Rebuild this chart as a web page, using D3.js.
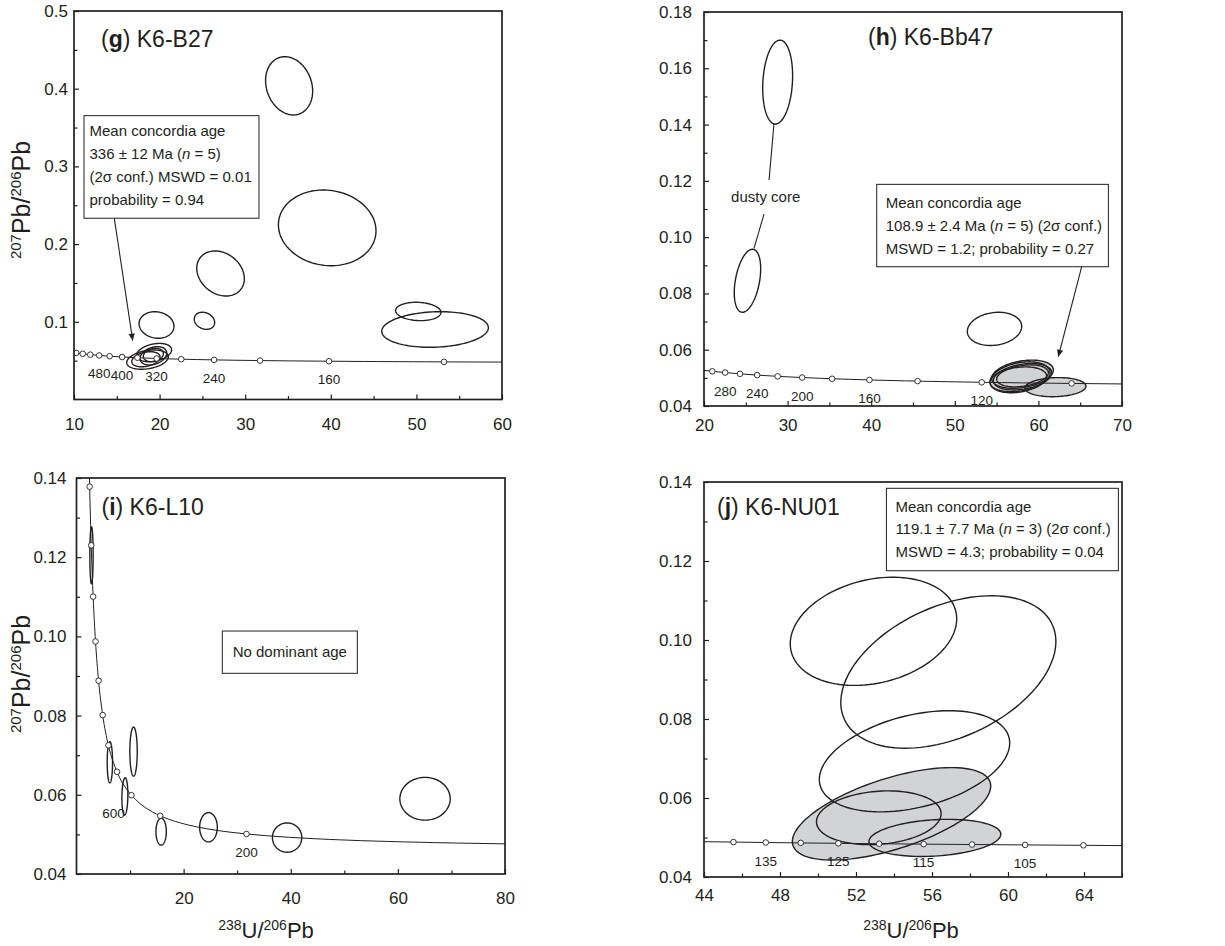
<!DOCTYPE html>
<html>
<head>
<meta charset="utf-8">
<script src="https://cdn.jsdelivr.net/npm/d3@7"></script>
<style>
body { margin: 0; background: #fff; }
svg { display: block; }
text { font-family: "Liberation Sans", Arial, Helvetica, sans-serif; fill: #231f20; }
</style>
</head>
<body>
<svg id="chart" width="1225" height="946"></svg>
<script>
// Concordia reference points: age (Ma), 238U/206Pb, 207Pb/206Pb
var concAge = [80, 90, 96, 100, 105, 110, 115, 120, 125, 130, 135, 140, 145, 160, 180, 200, 220, 240, 260, 280, 300,
    320, 360, 400, 440, 480, 520, 560, 600, 640, 800, 1000, 1200, 1400, 1600, 1800, 2000, 2200, 2300];
var concU = [80.08, 71.13, 66.65, 63.97, 60.90, 58.11, 55.56, 53.22, 51.07, 49.09, 47.25, 45.55, 43.96, 39.79, 35.32, 31.74, 28.81, 26.36, 24.30, 22.53, 20.99,
    19.65, 17.41, 15.62, 14.16, 12.94, 11.90, 11.02, 10.25, 9.58, 7.568, 5.959, 4.888, 4.123, 3.550, 3.105, 2.749, 2.459, 2.333];
var concPb = [0.04761, 0.04781, 0.04793, 0.04802, 0.04812, 0.04822, 0.04832, 0.04842, 0.04853, 0.04863, 0.04873, 0.04884, 0.04894, 0.04926, 0.04968, 0.05011, 0.05054, 0.05098, 0.05143, 0.05188, 0.05233,
    0.05280, 0.05374, 0.05470, 0.05569, 0.05670, 0.05774, 0.05881, 0.05990, 0.06102, 0.06580, 0.07250, 0.08012, 0.08881, 0.09872, 0.11004, 0.12299, 0.13782, 0.14603];

// age markers and labelled ages for each sample
var gMarkAges = [120, 160, 200, 240, 280, 320, 360, 400, 440, 480, 520, 560, 600];
var gLabelAges = [480, 400, 320, 240, 160];
var hMarkAges = [100, 120, 140, 160, 180, 200, 220, 240, 260, 280, 300];
var hLabelAges = [280, 240, 200, 160, 120];
var iMarkAges = [200, 400, 600, 800, 1000, 1200, 1400, 1600, 1800, 2000, 2200];
var iLabelAges = [600, 200];
var jMarkAges = [100, 105, 110, 115, 120, 125, 130, 135, 140];
var jLabelAges = [135, 125, 115, 105];

// error ellipses: [238U/206Pb, 207Pb/206Pb, half-width x, half-width y, correlation, shaded]
var gEllipses = [
    [35.13, 0.4037, 2.75, 0.0375, -0.18, 0],
    [39.58, 0.2209, 5.70, 0.0487, -0.08, 0],
    [27.12, 0.1622, 2.78, 0.0290, -0.23, 0],
    [25.24, 0.1013, 1.19, 0.0110, -0.20, 0],
    [19.64, 0.0959, 2.04, 0.0171, -0.10, 0],
    [50.22, 0.1133, 2.65, 0.0118, -0.10, 0],
    [52.18, 0.0901, 6.23, 0.0229, 0.10, 0],
    [18.59, 0.0513, 2.43, 0.0124, 0.30, 0],
    [19.36, 0.0604, 2.04, 0.0118, 0.30, 0],
    [19.27, 0.0562, 1.56, 0.0118, 0.30, 0],
    [19.27, 0.0573, 1.17, 0.0086, 0.20, 0],
    [18.40, 0.0518, 1.65, 0.0097, 0.30, 0]
];
var hEllipses = [
    [28.81, 0.1551, 1.79, 0.0149, 0.15, 0],
    [25.20, 0.0845, 1.58, 0.0112, 0.38, 0],
    [54.75, 0.0674, 3.25, 0.0059, 0.15, 0],
    [57.80, 0.0502, 3.59, 0.0055, 0.30, 1],
    [58.10, 0.0513, 3.69, 0.0050, 0.30, 1],
    [58.10, 0.0504, 3.49, 0.0047, 0.30, 1],
    [58.10, 0.0507, 3.09, 0.0039, 0.30, 1],
    [57.60, 0.0495, 3.39, 0.0044, 0.25, 1],
    [62.04, 0.0467, 3.65, 0.0034, 0.10, 1]
];
var iEllipses = [
    [2.80, 0.1205, 0.31, 0.0072, 0.00, 0],
    [6.23, 0.0682, 0.50, 0.0052, 0.00, 0],
    [10.65, 0.0709, 0.69, 0.0062, 0.00, 0],
    [9.03, 0.0596, 0.56, 0.0047, 0.10, 0],
    [15.80, 0.0507, 0.97, 0.0034, 0.00, 0],
    [24.64, 0.0518, 1.65, 0.0037, 0.00, 0],
    [39.32, 0.0492, 2.74, 0.0037, 0.00, 0],
    [65.07, 0.0590, 4.70, 0.0054, 0.00, 0]
];
var jEllipses = [
    [52.92, 0.1022, 4.38, 0.0137, 0.23, 0],
    [56.86, 0.0919, 5.66, 0.0193, 0.40, 0],
    [55.08, 0.0693, 5.01, 0.0128, 0.36, 0],
    [53.87, 0.0560, 5.22, 0.0117, 0.60, 1],
    [53.20, 0.0550, 3.28, 0.0068, 0.15, 0],
    [56.15, 0.0499, 3.47, 0.0047, 0.20, 1]
];

// tick values
var gXTicks = [10, 20, 30, 40, 50, 60];
var gXMinor = [15, 25, 35, 45, 55];
var gYTicks = [0.1, 0.2, 0.3, 0.4, 0.5];
var gYMinor = [0.05, 0.15, 0.25, 0.35, 0.45];
var hXTicks = [20, 30, 40, 50, 60, 70];
var hXMinor = [25, 35, 45, 55, 65];
var hYTicks = [0.04, 0.06, 0.08, 0.10, 0.12, 0.14, 0.16, 0.18];
var hYMinor = [0.05, 0.07, 0.09, 0.11, 0.13, 0.15, 0.17];
var iXTicks = [20, 40, 60, 80];
var iXMinor = [10, 30, 50, 70];
var iYTicks = [0.04, 0.06, 0.08, 0.10, 0.12, 0.14];
var iYMinor = [0.05, 0.07, 0.09, 0.11, 0.13];
var jXTicks = [44, 48, 52, 56, 60, 64];
var jXMinor = [46, 50, 54, 58, 62, 66];
var jYTicks = [0.04, 0.06, 0.08, 0.10, 0.12, 0.14];
var jYMinor = [0.05, 0.07, 0.09, 0.11, 0.13];

var svg = d3.select('#chart');
var defs = svg.append('defs');
defs.append('marker')
    .attr('id', 'arrow')
    .attr('viewBox', '0 0 10 10')
    .attr('refX', 10).attr('refY', 5)
    .attr('markerWidth', 11).attr('markerHeight', 7)
    .attr('markerUnits', 'userSpaceOnUse')
    .attr('orient', 'auto')
    .append('path').attr('d', 'M0,0.5 L10,5 L0,9.5 Z').attr('fill', '#231f20');

var panels = [
    {letter: 'g', name: ') K6-B27', left: 74, right: 502, top: 11, bottom: 399.5,
     xDomain: [10, 60], yDomain: [0, 0.5], xTicks: gXTicks, xMinor: gXMinor, yTicks: gYTicks, yMinor: gYMinor,
     yFmt: '.1f', xPad: 18.5, yPad: 6, marks: gMarkAges, labels: gLabelAges, labelDx: {}, ellipses: gEllipses,
     titleDx: 27, titleDy: 36,
     box: {x0: 11.17, x1: 31.61, y0: 0.3653, y1: 0.2333, padX: 5.5, first: 20.5, gap: 22.8, lines: [
         [['Mean concordia age']],
         [['336 \u00b1 12 Ma ('], ['n', 'italic'], [' = 5)']],
         [['(2\u03c3 conf.) MSWD = 0.01']],
         [['probability = 0.94']]]},
     arrow: [[14.71, 0.2332], [16.86, 0.0757]]},
    {letter: 'h', name: ') K6-Bb47', left: 704, right: 1122, top: 12, bottom: 406,
     xDomain: [20, 70], yDomain: [0.04, 0.18], xTicks: hXTicks, xMinor: hXMinor, yTicks: hYTicks, yMinor: hYMinor,
     yFmt: '.2f', xPad: 13, yPad: 12, marks: hMarkAges, labels: hLabelAges, labelDx: {}, ellipses: hEllipses,
     titleDx: 164, titleDy: 33,
     box: {x0: 40.66, x1: 68.37, y0: 0.11876, y1: 0.08949, padX: 9, first: 23.5, gap: 23, lines: [
         [['Mean concordia age']],
         [['108.9 \u00b1 2.4 Ma ('], ['n', 'italic'], [' = 5) (2\u03c3 conf.)']],
         [['MSWD = 1.2; probability = 0.27']]]},
     arrow: [[65.18, 0.08949], [62.38, 0.05751]],
     note: {text: 'dusty core', at: [27.38, 0.1144], leaders: [[[28.37, 0.14018], [27.78, 0.12028]], [[27.18, 0.10821], [25.98, 0.09602]]]}},
    {letter: 'i', name: ') K6-L10', left: 76.5, right: 505, top: 478, bottom: 874,
     xDomain: [0, 80], yDomain: [0.04, 0.14], xTicks: iXTicks, xMinor: iXMinor, yTicks: iYTicks, yMinor: iYMinor,
     yFmt: '.2f', xPad: 18, yPad: 10, marks: iMarkAges, labels: iLabelAges, labelDx: {600: -18}, ellipses: iEllipses,
     titleDx: 25, titleDy: 37,
     box: {x0: 27.22, x1: 52.43, y0: 0.10136, y1: 0.09068, center: true, lines: [[['No dominant age']]]}},
    {letter: 'j', name: ') K6-NU01', left: 704, right: 1122, top: 482, bottom: 877,
     xDomain: [44, 66], yDomain: [0.04, 0.14], xTicks: jXTicks, xMinor: jXMinor, yTicks: jYTicks, yMinor: jYMinor,
     yFmt: '.2f', xPad: 12, yPad: 12, marks: jMarkAges, labels: jLabelAges, labelDx: {}, ellipses: jEllipses,
     titleDx: 13, titleDy: 33,
     box: {x0: 53.6, x1: 65.81, y0: 0.1384, y1: 0.11754, padX: 9, first: 23.5, gap: 22.5, lines: [
         [['Mean concordia age']],
         [['119.1 \u00b1 7.7 Ma ('], ['n', 'italic'], [' = 3) (2\u03c3 conf.)']],
         [['MSWD = 4.3; probability = 0.04']]]}}
];

function ellipseOutline(e) {
    var r = Math.sqrt(1 - e[4] * e[4]);
    return d3.range(0, 360, 3).map(function(deg) {
        var t = deg * Math.PI / 180;
        return [e[0] + e[2] * Math.cos(t), e[1] + e[3] * (e[4] * Math.cos(t) + r * Math.sin(t))];
    });
}

function addSegments(textSel, segments) {
    segments.forEach(function(s) {
        textSel.append('tspan').attr('font-style', s[1] || null).text(s[0]);
    });
}

function drawPanel(p) {
    var x = d3.scaleLinear().domain(p.xDomain).range([p.left, p.right]);
    var y = d3.scaleLinear().domain(p.yDomain).range([p.bottom, p.top]);
    var chart = svg.append('g').attr('class', 'panel-' + p.letter);

    defs.append('clipPath').attr('id', 'clip-' + p.letter)
        .append('rect')
        .attr('x', p.left).attr('y', p.top)
        .attr('width', p.right - p.left).attr('height', p.bottom - p.top);
    var plot = chart.append('g').attr('clip-path', 'url(#clip-' + p.letter + ')');

    var ellipseLine = d3.line()
        .x(function(d) { return x(d[0]); })
        .y(function(d) { return y(d[1]); })
        .curve(d3.curveLinearClosed);

    // shaded ellipses (used in mean age)
    plot.selectAll('path.shade')
        .data(p.ellipses.filter(function(e) { return e[5]; }))
        .join('path')
        .attr('class', 'shade')
        .attr('d', function(e) { return ellipseLine(ellipseOutline(e)); })
        .attr('fill', '#d2d3d5');

    // concordia curve
    var curvePts = concAge.map(function(a, k) { return [concU[k], concPb[k]]; })
        .sort(function(a, b) { return a[0] - b[0]; });
    plot.append('path')
        .datum(curvePts)
        .attr('class', 'concordia')
        .attr('fill', 'none')
        .attr('stroke', '#231f20')
        .attr('stroke-width', 1)
        .attr('d', d3.line()
            .x(function(d) { return x(d[0]); })
            .y(function(d) { return y(d[1]); })
            .curve(d3.curveMonotoneX));

    // ellipse outlines
    plot.selectAll('path.ellipse')
        .data(p.ellipses)
        .join('path')
        .attr('class', 'ellipse')
        .attr('d', function(e) { return ellipseLine(ellipseOutline(e)); })
        .attr('fill', 'none')
        .attr('stroke', '#231f20')
        .attr('stroke-width', 1.4);

    // age markers
    var marks = p.marks.map(function(a) {
        var k = concAge.indexOf(a);
        return {age: a, u: concU[k], pb: concPb[k]};
    });
    plot.selectAll('circle.age')
        .data(marks)
        .join('circle')
        .attr('class', 'age')
        .attr('cx', function(d) { return x(d.u); })
        .attr('cy', function(d) { return y(d.pb); })
        .attr('r', 2.8)
        .attr('fill', '#fff')
        .attr('stroke', '#231f20')
        .attr('stroke-width', 0.9);

    chart.selectAll('text.agelabel')
        .data(marks.filter(function(d) { return p.labels.indexOf(d.age) >= 0; }))
        .join('text')
        .attr('class', 'agelabel')
        .attr('x', function(d) { return x(d.u) + (p.labelDx[d.age] || 0); })
        .attr('y', function(d) { return y(d.pb) + 23; })
        .attr('text-anchor', 'middle')
        .attr('font-size', 13.5)
        .text(function(d) { return d.age; });

    // axes, ticks pointing inward
    function styleAxis(g) {
        g.select('.domain').remove();
        g.selectAll('.tick line').attr('stroke', '#231f20').attr('stroke-width', 1.2);
        g.attr('font-size', 17).attr('font-family', '"Liberation Sans", Arial, sans-serif');
    }
    chart.append('g')
        .attr('transform', 'translate(0,' + p.bottom + ')')
        .call(d3.axisBottom(x).tickValues(p.xTicks).tickSize(-5).tickPadding(p.xPad).tickFormat(d3.format('d')))
        .call(styleAxis);
    chart.append('g')
        .attr('transform', 'translate(0,' + p.bottom + ')')
        .call(d3.axisBottom(x).tickValues(p.xMinor).tickSize(-3.5).tickFormat(''))
        .call(styleAxis);
    chart.append('g')
        .attr('transform', 'translate(' + p.left + ',0)')
        .call(d3.axisLeft(y).tickValues(p.yTicks).tickSize(-5).tickPadding(p.yPad).tickFormat(d3.format(p.yFmt)))
        .call(styleAxis);
    chart.append('g')
        .attr('transform', 'translate(' + p.left + ',0)')
        .call(d3.axisLeft(y).tickValues(p.yMinor).tickSize(-3.5).tickFormat(''))
        .call(styleAxis);

    // frame
    chart.append('rect')
        .attr('x', p.left).attr('y', p.top)
        .attr('width', p.right - p.left).attr('height', p.bottom - p.top)
        .attr('fill', 'none')
        .attr('stroke', '#231f20')
        .attr('stroke-width', 1.7);

    // panel title
    var title = chart.append('text')
        .attr('x', p.left + p.titleDx)
        .attr('y', p.top + p.titleDy)
        .attr('font-size', 23);
    title.append('tspan').text('(');
    title.append('tspan').attr('font-weight', 'bold').text(p.letter);
    title.append('tspan').text(p.name);

    // annotation box
    if (p.box) {
        var b = p.box;
        var bx = x(b.x0), by = y(b.y0), bw = x(b.x1) - x(b.x0), bh = y(b.y1) - y(b.y0);
        chart.append('rect')
            .attr('x', bx).attr('y', by).attr('width', bw).attr('height', bh)
            .attr('fill', '#fff')
            .attr('stroke', '#231f20')
            .attr('stroke-width', 1);
        b.lines.forEach(function(line, k) {
            var t = chart.append('text').attr('font-size', 15);
            if (b.center) {
                t.attr('x', bx + bw / 2).attr('y', by + bh / 2).attr('dy', '0.35em').attr('text-anchor', 'middle');
            } else {
                t.attr('x', bx + b.padX).attr('y', by + b.first + k * b.gap);
            }
            addSegments(t, line);
        });
    }

    if (p.arrow) {
        chart.append('line')
            .attr('x1', x(p.arrow[0][0])).attr('y1', y(p.arrow[0][1]))
            .attr('x2', x(p.arrow[1][0])).attr('y2', y(p.arrow[1][1]))
            .attr('stroke', '#231f20')
            .attr('stroke-width', 1.1)
            .attr('marker-end', 'url(#arrow)');
    }

    if (p.note) {
        chart.append('text')
            .attr('x', x(p.note.at[0])).attr('y', y(p.note.at[1]))
            .attr('dy', '0.35em')
            .attr('text-anchor', 'middle')
            .attr('font-size', 15)
            .text(p.note.text);
        p.note.leaders.forEach(function(l) {
            chart.append('line')
                .attr('x1', x(l[0][0])).attr('y1', y(l[0][1]))
                .attr('x2', x(l[1][0])).attr('y2', y(l[1][1]))
                .attr('stroke', '#231f20')
                .attr('stroke-width', 1.1);
        });
    }
}

panels.forEach(drawPanel);

// axis titles
function isotopeLabel(sel, parts, big, small) {
    parts.forEach(function(part) {
        sel.append('tspan').attr('font-size', small).attr('dy', -big * 0.38).text(part[0]);
        sel.append('tspan').attr('font-size', big).attr('dy', big * 0.38).text(part[1]);
    });
}

[[30, 200], [30, 674]].forEach(function(pos) {
    var t = svg.append('text')
        .attr('transform', 'translate(' + pos[0] + ',' + pos[1] + ') rotate(-90)')
        .attr('text-anchor', 'middle');
    isotopeLabel(t, [['207', 'Pb/'], ['206', 'Pb']], 25, 15);
});

[[266, 938], [911, 938]].forEach(function(pos) {
    var t = svg.append('text')
        .attr('x', pos[0]).attr('y', pos[1])
        .attr('text-anchor', 'middle');
    isotopeLabel(t, [['238', 'U/'], ['206', 'Pb']], 22, 14);
});
</script>
</body>
</html>
